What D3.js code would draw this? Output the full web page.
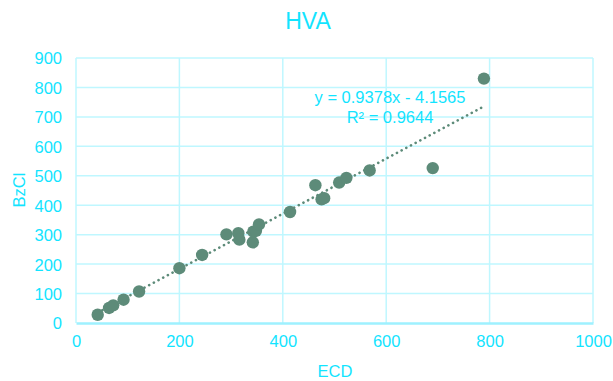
<!DOCTYPE html>
<html>
<head>
<meta charset="utf-8">
<script src="https://d3js.org/d3.v7.min.js"></script>
<style>
  body { margin: 0; background: #fff; }
  svg { display: block; font-family: "Liberation Sans", Arial, sans-serif; }
  .tick text { fill: #12e4ff; font-size: 16.5px; }
  .grid line { stroke: #bff7ff; stroke-width: 1.5; }
</style>
</head>
<body>
<div id="chart"></div>
<script>
  // ECD vs BzCl
  var ecd  = [42, 64, 72, 92, 122, 200, 244, 291, 314, 316, 342, 343, 348, 354, 414, 463, 475, 480, 509, 523, 568, 690, 789];
  var bzcl = [28, 51, 60, 79, 107, 186, 231, 301, 305, 283, 274, 310, 313, 335, 377, 468, 420, 424, 477, 493, 518, 526, 830];
  var xTicks = [0, 200, 400, 600, 800, 1000];
  var yTicks = [0, 100, 200, 300, 400, 500, 600, 700, 800, 900];
  var slope = 0.9378, intercept = -4.1565;
  var eqText = "y = 0.9378x - 4.1565";
  var r2Text = "R\u00b2 = 0.9644";

  var width = 613, height = 381;
  var padL = 76, padR = 593, padT = 58, padB = 323;
  var cyan = "#12e4ff", dot = "#5d8b79";

  var svg = d3.select("#chart").append("svg")
    .attr("width", width).attr("height", height);

  var x = d3.scaleLinear().domain([0, 1000]).range([padL, padR]);
  var y = d3.scaleLinear().domain([0, 900]).range([padB, padT]);

  // gridlines
  svg.append("g").attr("class", "grid")
    .selectAll("line").data(yTicks.slice(1)).enter().append("line")
    .attr("x1", padL).attr("x2", padR)
    .attr("y1", function(d){ return y(d); }).attr("y2", function(d){ return y(d); });
  svg.append("g").attr("class", "grid")
    .selectAll("line").data(xTicks).enter().append("line")
    .attr("y1", padT).attr("y2", padB)
    .attr("x1", function(d){ return x(d); }).attr("x2", function(d){ return x(d); });

  // axes
  var xAxis = svg.append("g")
    .attr("transform", "translate(0," + padB + ")")
    .call(d3.axisBottom(x).tickValues(xTicks).tickSize(0).tickPadding(12).tickFormat(d3.format("d")));
  xAxis.select(".domain").attr("stroke", "#9ef1ff").attr("stroke-width", 2.5);

  var yAxis = svg.append("g")
    .attr("transform", "translate(" + (padL - 14) + ",0)")
    .call(d3.axisLeft(y).tickValues(yTicks).tickSize(0).tickPadding(0));
  yAxis.select(".domain").remove();
  yAxis.selectAll("text").attr("dy", "0.36em");

  // trendline (round dots)
  var xr = d3.extent(ecd);
  svg.append("line")
    .attr("x1", x(xr[0])).attr("y1", y(slope * xr[0] + intercept))
    .attr("x2", x(xr[1])).attr("y2", y(slope * xr[1] + intercept))
    .attr("stroke", dot).attr("stroke-width", 2.6)
    .attr("stroke-dasharray", "0.1,5.2").attr("stroke-linecap", "round");

  // points
  svg.append("g").selectAll("circle")
    .data(ecd).enter().append("circle")
    .attr("cx", function(d){ return x(d); })
    .attr("cy", function(d, i){ return y(bzcl[i]); })
    .attr("r", 6.2)
    .attr("fill", dot);

  // equation label
  svg.append("text").attr("x", 390).attr("y", 103)
    .attr("text-anchor", "middle").attr("fill", cyan).attr("font-size", 16.5)
    .text(eqText);
  svg.append("text").attr("x", 390).attr("y", 122.5)
    .attr("text-anchor", "middle").attr("fill", cyan).attr("font-size", 16.5)
    .text(r2Text);

  // titles
  svg.append("text").attr("x", 308).attr("y", 29)
    .attr("text-anchor", "middle").attr("fill", cyan).attr("font-size", 23)
    .text("HVA");
  svg.append("text").attr("x", 335).attr("y", 377)
    .attr("text-anchor", "middle").attr("fill", cyan).attr("font-size", 16.5)
    .text("ECD");
  svg.append("text")
    .attr("transform", "translate(24.5,190) rotate(-90)")
    .attr("text-anchor", "middle").attr("fill", cyan).attr("font-size", 16.5)
    .text("BzCl");
</script>
</body>
</html>
